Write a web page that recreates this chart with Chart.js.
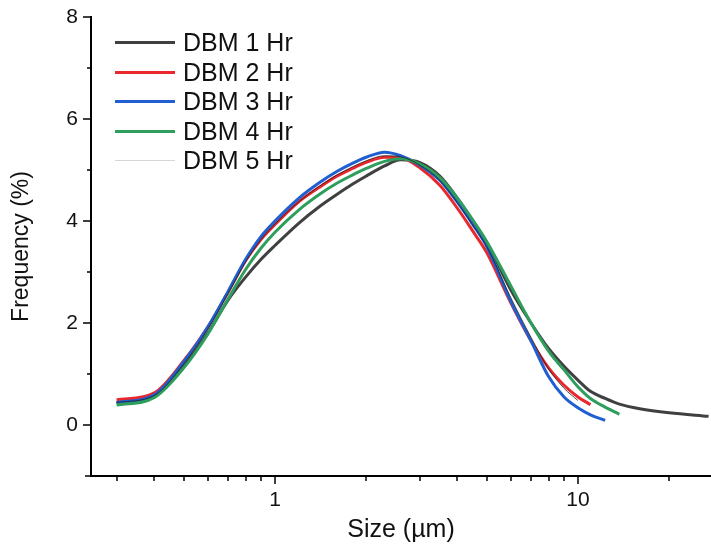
<!DOCTYPE html>
<html>
<head>
<meta charset="utf-8">
<script src="https://cdn.jsdelivr.net/npm/chart.js@4.4.1/dist/chart.umd.min.js"></script>
<style>
  body { margin: 0; background: #fff; }
  #wrap { position: relative; width: 711px; height: 551px; }
  #legend { position: absolute; left: 115px; top: 28px; font-family: Arial, "Liberation Sans", sans-serif; font-size: 25px; color: #111; }
  .row { height: 29.5px; display: flex; align-items: center; }
  .swatch { width: 60px; margin-right: 8px; }
</style>
</head>
<body>
<div id="wrap">
  <canvas id="chart" width="711" height="551"></canvas>
  <div id="legend"></div>
</div>
<script>
// particle size (um) and frequency (%)
const sizes = [0.3, 0.4, 0.5, 0.6, 0.7, 0.8, 0.9, 1, 1.2, 1.4, 1.6, 1.8, 2, 2.3, 2.6, 3, 3.5, 4, 4.5, 5, 6, 7, 8, 9, 10, 11, 12.3, 13.7, 16, 20, 27];
const dbm1 = [0.44, 0.57, 1.15, 1.80, 2.45, 2.90, 3.25, 3.52, 3.96, 4.28, 4.52, 4.72, 4.88, 5.08, 5.20, 5.15, 4.88, 4.45, 4.00, 3.58, 2.65, 2.00, 1.50, 1.15, 0.88, 0.66, 0.52, 0.41, 0.32, 0.24, 0.17];
const dbm2 = [0.49, 0.63, 1.26, 1.92, 2.60, 3.22, 3.64, 3.93, 4.38, 4.66, 4.88, 5.03, 5.15, 5.25, 5.24, 5.05, 4.70, 4.25, 3.80, 3.38, 2.40, 1.65, 1.12, 0.78, 0.55, 0.40];
const dbm3 = [0.44, 0.59, 1.24, 1.92, 2.62, 3.25, 3.70, 4.00, 4.45, 4.75, 4.97, 5.13, 5.25, 5.35, 5.28, 5.10, 4.80, 4.37, 3.93, 3.50, 2.43, 1.65, 0.95, 0.55, 0.34, 0.20, 0.09];
const dbm4 = [0.39, 0.54, 1.12, 1.78, 2.47, 3.05, 3.47, 3.78, 4.22, 4.52, 4.74, 4.90, 5.03, 5.17, 5.22, 5.12, 4.85, 4.45, 4.02, 3.60, 2.73, 2.00, 1.45, 1.08, 0.75, 0.52, 0.35, 0.21];
const dbm5 = [0.44, 0.58, 1.20, 1.88, 2.58, 3.20, 3.64, 3.94, 4.38, 4.68, 4.90, 5.06, 5.18, 5.28, 5.26, 5.10, 4.80, 4.36, 3.92, 3.50, 2.50, 1.72, 1.10, 0.72, 0.48];

const yTicks = [-1, 0, 1, 2, 3, 4, 5, 6, 7, 8];
const xTicks = [0.3, 0.4, 0.5, 0.6, 0.7, 0.8, 0.9, 1, 2, 3, 4, 5, 6, 7, 8, 9, 10, 20];
const xLabels = [1, 10];

function points(vals) {
    return vals.map((v, i) => ({ x: sizes[i], y: v }));
}

const series = [
    { label: 'DBM 1 Hr', data: dbm1, color: '#404040', width: 3, legendColor: '#404040', order: 5 },
    { label: 'DBM 2 Hr', data: dbm2, color: '#e8282c', width: 3, legendColor: '#e8282c', order: 4 },
    { label: 'DBM 3 Hr', data: dbm3, color: '#1f5fd2', width: 3, legendColor: '#1f5fd2', order: 3 },
    { label: 'DBM 4 Hr', data: dbm4, color: '#2e9e5c', width: 3, legendColor: '#2e9e5c', order: 2 },
    { label: 'DBM 5 Hr', data: dbm5, color: '#222222', width: 0.8, legendColor: '#d6d6d6', order: 1 }
];

// outward tick marks, long for majors and short for minors
const tickMarks = {
    id: 'tickMarks',
    afterDraw(chart) {
        const ctx = chart.ctx;
        const xs = chart.scales.x, ys = chart.scales.y;
        const area = chart.chartArea;
        ctx.save();
        ctx.strokeStyle = '#000';
        ctx.lineWidth = 1.5;
        ctx.beginPath();
        yTicks.forEach(v => {
            const py = Math.round(ys.getPixelForValue(v));
            const len = (v % 2 === 0) ? 8 : 4;
            ctx.moveTo(area.left - len, py);
            ctx.lineTo(area.left, py);
        });
        xTicks.forEach(v => {
            const px = Math.round(xs.getPixelForValue(v));
            const len = xLabels.includes(v) ? 8 : 5;
            ctx.moveTo(px, area.bottom);
            ctx.lineTo(px, area.bottom + len);
        });
        // bottom axis runs a little past the left one
        ctx.moveTo(area.left - 6, area.bottom);
        ctx.lineTo(area.left, area.bottom);
        ctx.stroke();
        ctx.restore();
    }
};

const chart = new Chart(document.getElementById('chart'), {
    type: 'line',
    data: {
        datasets: series.map(s => ({
            label: s.label,
            data: points(s.data),
            borderColor: s.color,
            borderWidth: s.width,
            pointRadius: 0,
            fill: false,
            cubicInterpolationMode: 'monotone',
            order: s.order
        }))
    },
    options: {
        responsive: false,
        animation: false,
        devicePixelRatio: 1,
        layout: { padding: { top: 17, right: 0, left: 0, bottom: 0 } },
        plugins: { legend: { display: false }, tooltip: { enabled: false } },
        scales: {
            x: {
                type: 'logarithmic',
                min: 0.247,
                max: 27.5,
                grid: { display: false, drawTicks: false },
                border: { display: true, color: '#000', width: 2 },
                afterBuildTicks: scale => { scale.ticks = xTicks.map(v => ({ value: v })); },
                afterFit: scale => { scale.height = 75; scale.paddingLeft = 0; scale.paddingRight = 0; },
                ticks: {
                    autoSkip: false,
                    maxRotation: 0,
                    padding: 12,
                    color: '#111',
                    font: { family: 'Arial, "Liberation Sans"', size: 21 },
                    callback: v => xLabels.includes(v) ? String(v) : ''
                },
                title: {
                    display: true,
                    text: 'Size (µm)',
                    color: '#111',
                    font: { family: 'Arial, "Liberation Sans"', size: 25 },
                    padding: { top: 0, bottom: 6 }
                }
            },
            y: {
                min: -1,
                max: 8,
                grid: { display: false, drawTicks: false },
                border: { display: true, color: '#000', width: 2 },
                afterBuildTicks: scale => { scale.ticks = yTicks.map(v => ({ value: v })); },
                afterFit: scale => { scale.width = 91; scale.paddingTop = 0; scale.paddingBottom = 0; },
                ticks: {
                    padding: 13,
                    color: '#111',
                    font: { family: 'Arial, "Liberation Sans"', size: 21 },
                    callback: v => (v >= 0 && v % 2 === 0) ? String(v) : ''
                },
                title: {
                    display: true,
                    text: 'Frequency (%)',
                    color: '#111',
                    font: { family: 'Arial, "Liberation Sans"', size: 23 },
                    padding: { top: 8, bottom: 0 }
                }
            }
        }
    },
    plugins: [tickMarks]
});

// html legend from the chart's datasets
const legend = document.getElementById('legend');
series.forEach(s => {
    const row = document.createElement('div');
    row.className = 'row';
    const sw = document.createElement('div');
    sw.className = 'swatch';
    sw.style.borderTop = (s.width < 1 ? 1 : s.width) + 'px solid ' + s.legendColor;
    const txt = document.createElement('span');
    txt.textContent = s.label;
    row.appendChild(sw);
    row.appendChild(txt);
    legend.appendChild(row);
});
</script>
</body>
</html>
